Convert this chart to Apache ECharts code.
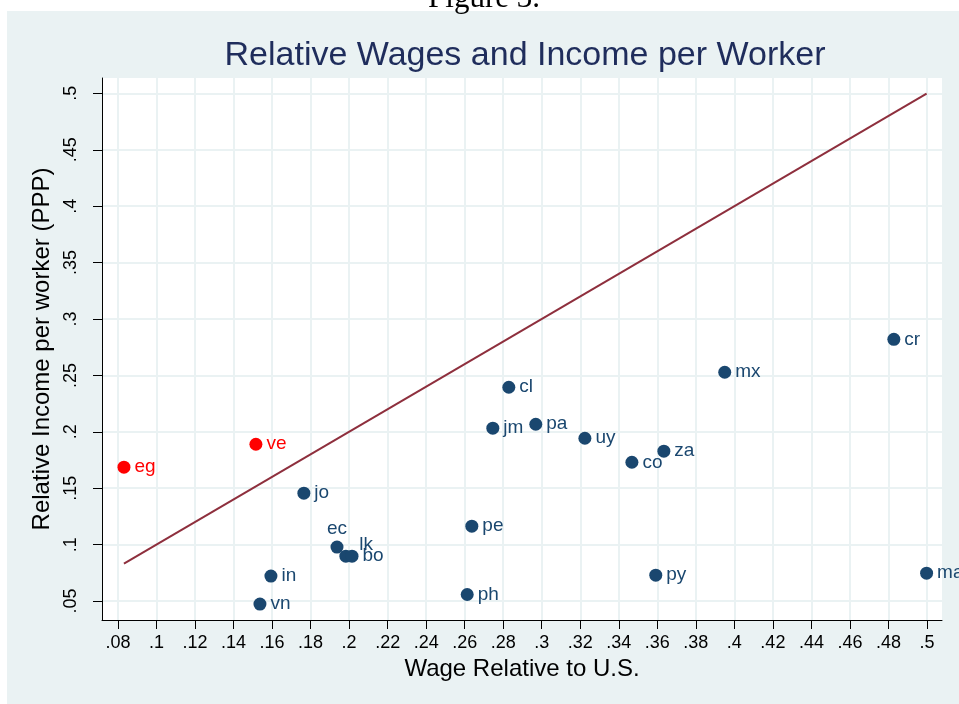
<!DOCTYPE html>
<html><head><meta charset="utf-8">
<script src="https://cdn.jsdelivr.net/npm/echarts@6/dist/echarts.min.js"></script>
<style>html,body{margin:0;padding:0;background:#fff}#c{width:959px;height:704px}</style>
</head><body><div id="c"></div>
<script>
const countries = ['eg','ve','jo','ec','lk','bo','in','vn','pe','ph','jm','cl','pa','uy','co','za','py','mx','cr','ma'];
const wages     = [0.0831,0.1516,0.1765,0.1937,0.1983,0.2015,0.1594,0.1537,0.2637,0.2613,0.2746,0.2829,0.2969,0.3224,0.3468,0.3634,0.3592,0.3950,0.4828,0.4998];
const incomes   = [0.1687,0.1890,0.1456,0.0978,0.0898,0.0898,0.0721,0.0473,0.1164,0.0558,0.2032,0.2395,0.2067,0.1943,0.1730,0.1828,0.0729,0.2528,0.2820,0.0747];
const highlighted = ['eg','ve'];
const xTicks = [0.08,0.1,0.12,0.14,0.16,0.18,0.2,0.22,0.24,0.26,0.28,0.3,0.32,0.34,0.36,0.38,0.4,0.42,0.44,0.46,0.48,0.5];
const yTicks = [0.05,0.1,0.15,0.2,0.25,0.3,0.35,0.4,0.45,0.5];

const NAVY = '#1a476f', RED = '#ff0000', LINE = '#8e2f3d', BG = '#eaf2f3';
const labelPlacement = { ec: { position: 'top', distance: 2 }, lk: { position: 'right', offset: [3, -11] } };
const fmt = v => String(Number(v.toFixed(2))).replace(/^0/, '');

function pts(filterFn) {
  const out = [];
  countries.forEach((c, i) => {
    if (!filterFn(c)) return;
    const item = { name: c, value: [wages[i], incomes[i]] };
    if (labelPlacement[c]) item.label = labelPlacement[c];
    out.push(item);
  });
  return out;
}
const lo = Math.min(...wages), hi = Math.max(...wages);

const chart = echarts.init(document.getElementById('c'));
chart.setOption({
  backgroundColor: '#ffffff',
  animation: false,
  graphic: [{ type: 'rect', left: 7, top: 11, z: -100, shape: { width: 960, height: 700 }, style: { fill: BG }, silent: true }],
  title: [
    { text: 'Relative Wages and Income per Worker', left: 520, top: 34, textAlign: 'center',
      textStyle: { fontFamily: 'Liberation Sans', fontWeight: 'normal', fontSize: 34, color: '#1f2d5c' } },
    { text: 'Figure 3.', left: 479, top: -22, textAlign: 'center',
      textStyle: { fontFamily: 'Liberation Serif', fontWeight: 'normal', fontSize: 31, color: '#000' } }
  ],
  grid: { left: 102, right: 17, top: 78, bottom: 84, show: true, backgroundColor: '#ffffff', borderWidth: 0 },
  xAxis: {
    type: 'value', min: 0.0717, max: 0.5078,
    name: 'Wage Relative to U.S.', nameLocation: 'middle', nameGap: 30,
    nameTextStyle: { fontFamily: 'Liberation Sans', fontSize: 24, color: '#000' },
    axisLine: { show: true, onZero: false, lineStyle: { color: '#000', width: 1 } },
    axisTick: { show: true, length: 9, customValues: xTicks, lineStyle: { color: '#000' } },
    axisLabel: { customValues: xTicks, formatter: fmt, margin: 14, fontFamily: 'Liberation Sans', fontSize: 18, color: '#000' },
    splitLine: { show: true, lineStyle: { color: BG, width: 2 } }
  },
  yAxis: {
    type: 'value', min: 0.0332, max: 0.5136,
    name: 'Relative Income per worker (PPP)', nameLocation: 'middle', nameGap: 48,
    nameTextStyle: { fontFamily: 'Liberation Sans', fontSize: 24, color: '#000' },
    axisLine: { show: true, onZero: false, lineStyle: { color: '#000', width: 1 } },
    axisTick: { show: true, length: 9, customValues: yTicks, lineStyle: { color: '#000' } },
    axisLabel: { customValues: yTicks, formatter: fmt, rotate: 90, margin: 22, fontFamily: 'Liberation Sans', fontSize: 18, color: '#000' },
    splitLine: { show: true, lineStyle: { color: BG, width: 2 } }
  },
  series: [
    { type: 'line', data: [[lo, lo], [hi, hi]], symbol: 'none', lineStyle: { color: LINE, width: 2 }, z: 1, silent: true },
    { type: 'scatter', data: pts(c => !highlighted.includes(c)), symbolSize: 13, itemStyle: { color: NAVY, opacity: 1 }, z: 3,
      label: { show: true, position: 'right', distance: 4, formatter: p => p.name, color: NAVY, fontFamily: 'Liberation Sans', fontSize: 19 } },
    { type: 'scatter', data: pts(c => highlighted.includes(c)), symbolSize: 13, itemStyle: { color: RED, opacity: 1 }, z: 3,
      label: { show: true, position: 'right', distance: 4, formatter: p => p.name, color: RED, fontFamily: 'Liberation Sans', fontSize: 19 } }
  ]
});
</script></body></html>
